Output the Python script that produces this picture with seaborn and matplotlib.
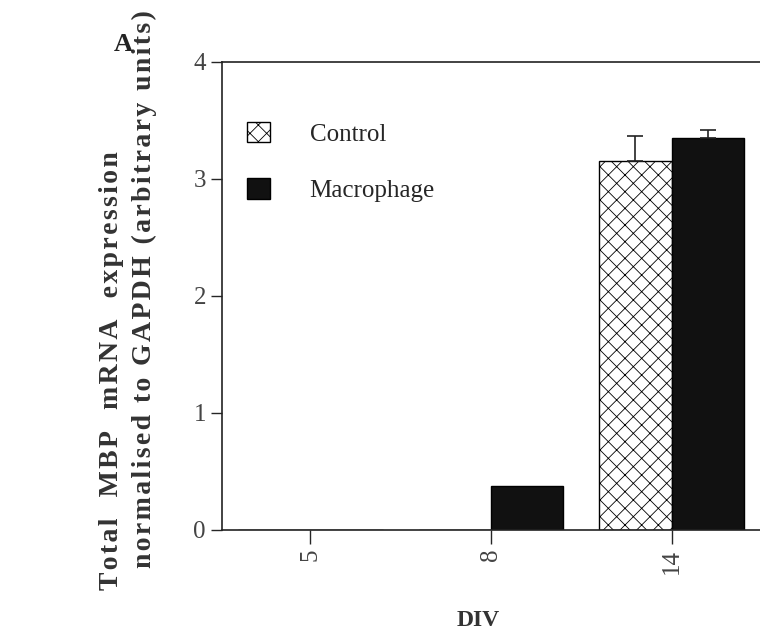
import numpy as np
import pandas as pd
import seaborn as sns
import matplotlib.pyplot as plt
from matplotlib.patches import Patch

# values
div_days = ["5", "8", "14"]
control = [0.0, 0.0, 3.15]
control_err = [0.0, 0.0, 0.22]
macrophage = [0.0, 0.38, 3.35]
macrophage_err = [0.0, 0.0, 0.07]
groups = ["Control", "Macrophage"]

df = pd.DataFrame({
    "DIV": div_days * 2,
    "value": control + macrophage,
    "err": control_err + macrophage_err,
    "group": [groups[0]] * 3 + [groups[1]] * 3,
})

sns.set_style("white")
plt.rcParams["font.family"] = ["Liberation Serif", "DejaVu Serif"]
plt.rcParams["hatch.linewidth"] = 0.6
plt.rcParams["hatch.color"] = "#666666"

fig = plt.figure(figsize=(7.6, 6.37), dpi=100)
ax = fig.add_axes([0.292, 0.168, 0.708, 0.735])

sns.barplot(data=df, x="DIV", y="value", hue="group", order=div_days,
            hue_order=groups, palette=["white", "#111111"], edgecolor="black",
            linewidth=1.0, errorbar=None, width=0.8, legend=False, ax=ax)

# hatch the control bars, add upper-only error bars
for cont, vals, errs in zip(ax.containers, [control, macrophage],
                            [control_err, macrophage_err]):
    for bar, v, e in zip(cont, vals, errs):
        if cont is ax.containers[0]:
            bar.set_hatch("xx")
        if e > 0:
            xc = bar.get_x() + bar.get_width() / 2
            ax.errorbar(xc, v, yerr=[[0], [e]], fmt="none", ecolor="#222222",
                        elinewidth=1.2, capsize=6, capthick=1.2)

ax.set_ylim(0, 4)
ax.set_xlim(-0.49, 2.49)
ax.set_yticks([0, 1, 2, 3, 4])
ax.tick_params(axis="y", direction="out", length=8, width=1, labelsize=18,
               labelcolor="#444444", left=True)
ax.tick_params(axis="x", direction="out", length=10, width=1, labelsize=18,
               labelcolor="#444444", bottom=True, labelrotation=90)
for s in ["left", "top", "bottom"]:
    ax.spines[s].set_color("#222222")
    ax.spines[s].set_linewidth(1.2)
ax.spines["right"].set_visible(False)
ax.set_xlabel("")
ax.set_ylabel("")

# axis titles placed as in the scan (letter-spaced like the original)
hair = "\u200a"
line1 = hair.join("Total  MBP  mRNA  expression")
line2 = hair.join("normalised to GAPDH (arbitrary units)")
lab = dict(fontsize=20, fontweight="bold", color="#333333", rotation=90,
           ha="center", va="center")
fig.text(112 / 760, 1 - 371 / 637, line1, **lab)
fig.text(144 / 760, 1 - 289 / 637, line2, **lab)
fig.text(478 / 760, 1 - 621 / 637, "DIV", fontsize=17, fontweight="bold",
         color="#333333", ha="center", va="center")

handles = [Patch(facecolor="white", edgecolor="black", hatch="xx", label="Control"),
           Patch(facecolor="#111111", edgecolor="black", label="Macrophage")]
ax.legend(handles=handles, loc="upper left", bbox_to_anchor=(0.005, 0.92),
          frameon=False, fontsize=18, handlelength=0.9, handleheight=0.9,
          labelspacing=1.3, handletextpad=1.6)

fig.text(0.150, 0.92, "A", fontsize=19, fontweight="bold", color="#222222")

fig.savefig("out.png", dpi=100)
